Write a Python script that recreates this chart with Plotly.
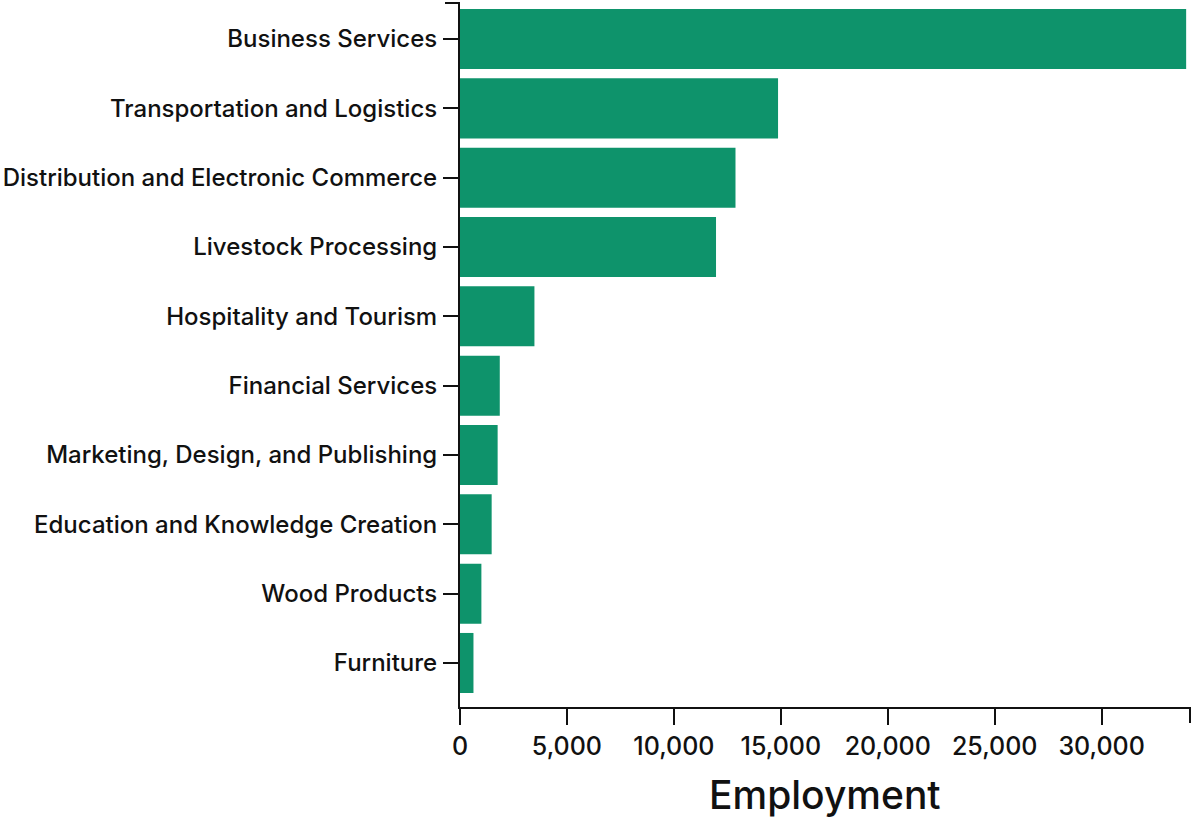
import plotly.graph_objects as go

categories = [
    "Business Services",
    "Transportation and Logistics",
    "Distribution and Electronic Commerce",
    "Livestock Processing",
    "Hospitality and Tourism",
    "Financial Services",
    "Marketing, Design, and Publishing",
    "Education and Knowledge Creation",
    "Wood Products",
    "Furniture",
]
employment = [33950, 14870, 12880, 11970, 3480, 1860, 1760, 1480, 1000, 630]
x_tick_values = [0, 5000, 10000, 15000, 20000, 25000, 30000]
x_tick_labels = ["0", "5,000", "10,000", "15,000", "20,000", "25,000", "30,000"]
x_title = "Employment"

BAR_COLOR = "#0e936b"
FONT = "Inter"

fig = go.Figure(
    go.Bar(
        x=employment,
        y=categories,
        orientation="h",
        marker=dict(color=BAR_COLOR, line=dict(width=0)),
        width=0.866,
        hovertemplate="%{y}: %{x:,}<extra></extra>",
    )
)

fig.update_layout(
    width=1192,
    height=822,
    margin=dict(l=460, r=2, t=3, b=115),
    paper_bgcolor="white",
    plot_bgcolor="white",
    font=dict(family=FONT, color="#111", size=20),
    showlegend=False,
    xaxis=dict(
        range=[0, 34130],
        tickvals=x_tick_values,
        ticktext=x_tick_labels,
        ticks="outside",
        ticklen=16,
        tickwidth=2,
        tickcolor="#111",
        showline=True,
        linecolor="#111",
        linewidth=2,
        showgrid=False,
        zeroline=False,
        automargin=False,
        tickfont=dict(size=25, weight=500),
    ),
    yaxis=dict(
        categoryorder="array",
        categoryarray=categories,
        range=[9.635, -0.52],
        ticks="outside",
        ticklen=15,
        tickwidth=2,
        tickcolor="#111",
        showline=True,
        linecolor="#111",
        linewidth=2,
        showgrid=False,
        zeroline=False,
        automargin=False,
        tickfont=dict(size=24, weight=500),
        ticklabelstandoff=1,
    ),
    annotations=[
        dict(text=x_title, xref="paper", yref="paper", x=0.5, y=0,
             xanchor="center", yanchor="top", yshift=-62, showarrow=False,
             font=dict(size=39, color="#111", weight=500, family=FONT)),
    ],
    shapes=[
        dict(type="line", xref="paper", yref="paper", x0=1, x1=1,
             ysizemode="pixel", yanchor=0, y0=0, y1=-16,
             line=dict(color="#111", width=2)),
        dict(type="line", xref="paper", yref="paper", y0=1, y1=1,
             xsizemode="pixel", xanchor=0, x0=-15, x1=0,
             line=dict(color="#111", width=2)),
    ],
)

fig.write_html(
    "out.html",
    config={"displayModeBar": False},
    post_script="document.body.style.margin='0';document.body.style.overflow='hidden';",
)
